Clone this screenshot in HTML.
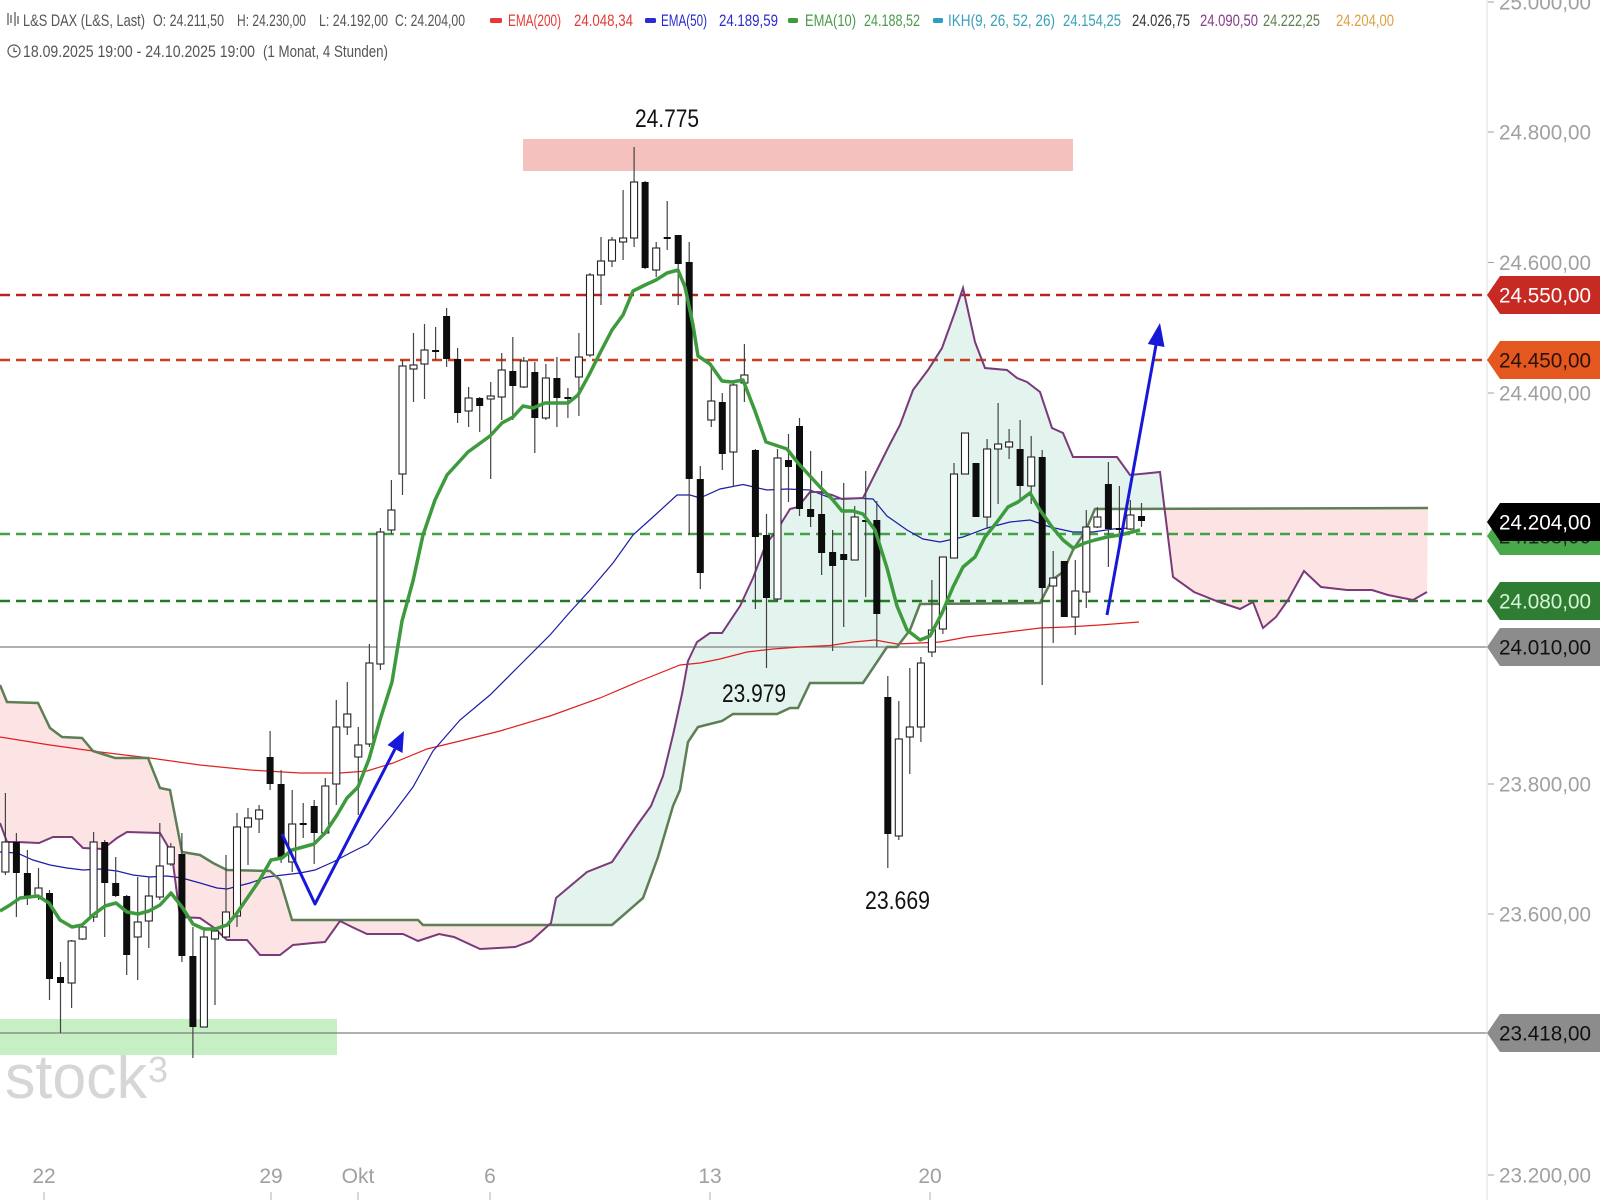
<!DOCTYPE html>
<html>
<head>
<meta charset="utf-8">
<style>
html,body{margin:0;padding:0;background:#fff;}
svg{display:block;}
text{font-family:"Liberation Sans",Arial,sans-serif;}
.hd{font-family:"Liberation Sans Narrow","Liberation Sans",sans-serif;font-size:17px;}
</style>
</head>
<body>
<svg width="1600" height="1200" viewBox="0 0 1600 1200" xmlns="http://www.w3.org/2000/svg">
<rect x="0" y="0" width="1600" height="1200" fill="#ffffff"/>
<defs>
<clipPath id="cpPink"><rect x="0" y="0" width="551" height="1200"/><rect x="1164.5" y="0" width="300" height="1200"/></clipPath>
<clipPath id="cpGreen"><rect x="551" y="0" width="613.5" height="1200"/></clipPath>
</defs>

<!-- watermark -->
<text x="5" y="1098" font-size="62" fill="#d6d6d6" textLength="142" lengthAdjust="spacingAndGlyphs">stock</text>
<text x="148" y="1082" font-size="36" fill="#d6d6d6">3</text>
<rect x="148" y="1049" width="22" height="3" fill="#d6d6d6"/>

<!-- Ichimoku cloud fills -->
<polygon clip-path="url(#cpPink)" fill="#fde4e4" points="0,823 7,842 17,842 39,843 53,837 72,837 83,848 103,849 117,838 127,832 160,833 170,850 173,863 180,917 200,918 213,927 227,940 247,940 260,955 280,955 293,945 313,943 325,942 340,921 352,927 367,934 403,934 418,941 439,934 454,937 480,949 515,947 531,941 551,923 556,898 587,872 612,862 638,824 651,806 663,776 673,735 682,694 688,661 697,642 710,633 722,633 740,606 753,578 766,544 777,530 790,509 798,507 810,492 820,492 832,495 842,499 863,498 880,464 890,444 900,425 913,390 928,370 942,348 955,312 963,288 975,342 985,368 1007,370 1017,378 1027,382 1040,392 1052,428 1063,433 1073,457 1117,457 1130,475 1160,472 1173,577 1194,592 1219,602 1240,609 1253,602 1263,628 1276,617 1288,600 1304,571 1321,587 1347,590 1372,590 1388,595 1413,600 1427,592 1428,508 1095,509 1085,532 1073,550 1063,572 1052,580 1040,603 920,604 910,630 897,647 887,647 863,683 810,683 798,708 790,708 777,714 733,714 722,721 698,727 688,742 680,790 673,806 658,857 643,898 612,925 423,925 418,920 292,920 280,880 270,871 227,870 213,863 200,855 182,852 170,790 160,788 148,758 115,758 93,751 82,738 62,737 50,728 38,703 7,702 0,685"/>
<polygon clip-path="url(#cpGreen)" fill="#e3f3ee" points="0,823 7,842 17,842 39,843 53,837 72,837 83,848 103,849 117,838 127,832 160,833 170,850 173,863 180,917 200,918 213,927 227,940 247,940 260,955 280,955 293,945 313,943 325,942 340,921 352,927 367,934 403,934 418,941 439,934 454,937 480,949 515,947 531,941 551,923 556,898 587,872 612,862 638,824 651,806 663,776 673,735 682,694 688,661 697,642 710,633 722,633 740,606 753,578 766,544 777,530 790,509 798,507 810,492 820,492 832,495 842,499 863,498 880,464 890,444 900,425 913,390 928,370 942,348 955,312 963,288 975,342 985,368 1007,370 1017,378 1027,382 1040,392 1052,428 1063,433 1073,457 1117,457 1130,475 1160,472 1173,577 1194,592 1219,602 1240,609 1253,602 1263,628 1276,617 1288,600 1304,571 1321,587 1347,590 1372,590 1388,595 1413,600 1427,592 1428,508 1095,509 1085,532 1073,550 1063,572 1052,580 1040,603 920,604 910,630 897,647 887,647 863,683 810,683 798,708 790,708 777,714 733,714 722,721 698,727 688,742 680,790 673,806 658,857 643,898 612,925 423,925 418,920 292,920 280,880 270,871 227,870 213,863 200,855 182,852 170,790 160,788 148,758 115,758 93,751 82,738 62,737 50,728 38,703 7,702 0,685"/>

<!-- zones -->
<rect x="523" y="139" width="550" height="32" fill="#f5c1be"/>
<rect x="0" y="1019" width="337" height="36" fill="#c6f0c4"/>

<!-- horizontal levels -->
<line x1="0" y1="647" x2="1487" y2="647" stroke="#808080" stroke-width="1.2"/>
<line x1="0" y1="1033" x2="1487" y2="1033" stroke="#808080" stroke-width="1.2"/>
<line x1="0" y1="295" x2="1487" y2="295" stroke="#b3261e" stroke-width="2.5" stroke-dasharray="10,6"/>
<line x1="0" y1="360" x2="1487" y2="360" stroke="#cc3d1e" stroke-width="2.5" stroke-dasharray="10,6"/>
<line x1="0" y1="534" x2="1487" y2="534" stroke="#45a045" stroke-width="2.5" stroke-dasharray="10,6"/>
<line x1="0" y1="601" x2="1487" y2="601" stroke="#237a23" stroke-width="2.5" stroke-dasharray="10,6"/>

<!-- EMA200 -->
<polyline fill="none" stroke="#e02020" stroke-width="1.2" points="0,737 50,745 100,752 150,758 200,765 250,770 300,773 340,773 367,771 393,763 427,749 460,741 500,731 550,716 600,698 640,681 680,665 700,663 720,659 747,652 773,649 800,647 830,645.5 853,642 875,640 897,644 920,643 940,642 967,637 1000,633 1040,628 1067,627 1100,625 1139,622"/>
<!-- EMA50 -->
<polyline fill="none" stroke="#1c1ca8" stroke-width="1.2" points="0,852 17,853 33,860 50,865 67,868 83,870 100,869 117,871 133,875 150,877 167,876 182,878 200,883 217,888 227,889 250,883 267,877 283,875 300,873 315,870 333,862 350,853 368,844 392,815 413,787 433,751 460,720 490,695 520,665 550,635 570,612 590,590 613,563 633,535 653,517 677,495 690,495 700,498 720,489 743,484.5 767,490 787,489 810,490 833,499 853,498 873,499 887,516 907,530 923,539 940,542 963,537 987,528 1010,522 1030,520 1050,527 1073,532 1093,532 1113,529 1130,528"/>
<!-- Span lines -->
<polyline fill="none" stroke="#5e7e55" stroke-width="2.5" points="0,685 7,702 38,703 50,728 62,737 82,738 93,751 115,758 148,758 160,788 170,790 182,852 200,855 213,863 227,870 270,871 280,880 292,920 418,920 423,925 612,925 643,898 658,857 673,806 680,790 688,742 698,727 722,721 733,714 777,714 790,708 798,708 810,683 863,683 887,647 897,647 910,630 920,604 1040,603 1052,580 1063,572 1073,550 1085,532 1095,509 1428,508"/>
<polyline fill="none" stroke="#7a3a7a" stroke-width="2" points="0,823 7,842 17,842 39,843 53,837 72,837 83,848 103,849 117,838 127,832 160,833 170,850 173,863 180,917 200,918 213,927 227,940 247,940 260,955 280,955 293,945 313,943 325,942 340,921 352,927 367,934 403,934 418,941 439,934 454,937 480,949 515,947 531,941 551,923 556,898 587,872 612,862 638,824 651,806 663,776 673,735 682,694 688,661 697,642 710,633 722,633 740,606 753,578 766,544 777,530 790,509 798,507 810,492 820,492 832,495 842,499 863,498 880,464 890,444 900,425 913,390 928,370 942,348 955,312 963,288 975,342 985,368 1007,370 1017,378 1027,382 1040,392 1052,428 1063,433 1073,457 1117,457 1130,475 1160,472 1173,577 1194,592 1219,602 1240,609 1253,602 1263,628 1276,617 1288,600 1304,571 1321,587 1347,590 1372,590 1388,595 1413,600 1427,592"/>

<!-- wicks -->
<path fill="none" stroke="#444" stroke-width="1.2" d="M5.4 793V875M16.4 833V917M27.4 850V905M38.5 868V900M49.5 890V1000M60.5 962V1033M71.6 940V1008M82.6 923V940M93.6 832V922M104.7 840V937M115.7 857V897M126.7 895V975M137.7 877V980M148.8 877V948M159.8 823V900M170.8 843V866M181.9 833V962M192.9 927V1058M203.9 927V1027M215 927V1005M226 855V938M237 813V927M248 808V865M259.1 805V833M270.1 731V790M281.1 770V863M292.2 790V872M303.2 803V838M314.2 800V864M325.3 778V835M336.3 700V805M347.3 682V735M358.3 727V815M369.4 644V747M380.4 528V670M391.4 480V534M402.5 360V495M413.5 333V402M424.5 324V399M435.6 327V360M446.6 308V367M457.6 348V423M468.6 387V427M479.7 397V432M490.7 382V479M501.7 353V420M512.8 337V420M523.8 357V388M534.8 362V453M545.9 364V420M556.9 357V427M567.9 388V418M578.9 333V416M590 273V357M601 237V305M612 237V267M623.1 190V260M634.1 147V247M645.1 181V269M656.2 242V277M667.2 201V250M678.2 235V305M689.2 242V535M700.3 466V589M711.3 368V427M722.3 393V470M733.4 383V487M744.4 344V402M755.4 449V609M766.5 514V668M777.5 449V601M788.5 434V502M799.5 418V516M810.6 451V527M821.6 471V575M832.6 530V651M843.7 483V627M854.7 506V560M865.7 471V597M876.8 501V647M887.8 676V868M898.8 701V840M909.8 668V774M920.9 657V742M931.9 580V657M942.9 557V634M954 463V558M965 433V474M976 463V517M987.1 439V529M998.1 403V504M1009.1 429V459M1020.1 420V501M1031.2 436V504M1042.2 450V685M1053.2 551V643M1064.3 561V617M1075.3 560V635M1086.3 510V608M1097.4 507V528M1108.4 462V567M1119.4 486V543M1130.4 500V530M1141.5 503V527"/>

<!-- hollow bodies -->
<g fill="#ffffff" stroke="#222" stroke-width="1.1">
<rect x="1.9" y="842" width="7" height="30"/>
<rect x="35" y="888" width="7" height="9"/>
<rect x="68.1" y="941" width="7" height="42"/>
<rect x="79.1" y="927" width="7" height="12"/>
<rect x="90.1" y="842" width="7" height="75"/>
<rect x="134.2" y="922" width="7" height="15"/>
<rect x="145.3" y="896" width="7" height="25"/>
<rect x="156.3" y="866" width="7" height="31"/>
<rect x="167.3" y="847" width="7" height="17"/>
<rect x="200.4" y="937" width="7" height="90"/>
<rect x="211.5" y="931" width="7" height="8"/>
<rect x="222.5" y="912" width="7" height="25"/>
<rect x="233.5" y="827" width="7" height="89"/>
<rect x="244.5" y="818" width="7" height="9"/>
<rect x="255.6" y="810" width="7" height="9"/>
<rect x="288.7" y="824" width="7" height="38"/>
<rect x="321.8" y="786" width="7" height="47"/>
<rect x="332.8" y="727" width="7" height="57"/>
<rect x="343.8" y="714" width="7" height="13"/>
<rect x="354.8" y="745" width="7" height="12"/>
<rect x="365.9" y="663" width="7" height="81"/>
<rect x="376.9" y="532" width="7" height="132"/>
<rect x="387.9" y="510" width="7" height="20"/>
<rect x="399" y="366" width="7" height="108"/>
<rect x="410" y="365" width="7" height="4"/>
<rect x="421" y="350" width="7" height="14"/>
<rect x="465.1" y="398" width="7" height="13"/>
<rect x="487.2" y="396" width="7" height="3"/>
<rect x="498.2" y="370" width="7" height="27"/>
<rect x="520.3" y="361" width="7" height="26"/>
<rect x="542.4" y="378" width="7" height="40"/>
<rect x="575.4" y="357" width="7" height="20"/>
<rect x="586.5" y="275" width="7" height="80"/>
<rect x="597.5" y="261" width="7" height="14"/>
<rect x="608.5" y="240" width="7" height="21"/>
<rect x="619.6" y="238" width="7" height="4"/>
<rect x="630.6" y="182" width="7" height="56"/>
<rect x="652.7" y="248" width="7" height="22"/>
<rect x="707.8" y="401" width="7" height="19"/>
<rect x="729.9" y="385" width="7" height="67"/>
<rect x="740.9" y="375" width="7" height="8"/>
<rect x="774" y="458" width="7" height="141"/>
<rect x="851.2" y="517" width="7" height="43"/>
<rect x="895.3" y="739" width="7" height="97"/>
<rect x="906.3" y="727" width="7" height="10"/>
<rect x="917.4" y="663" width="7" height="64"/>
<rect x="928.4" y="630" width="7" height="22"/>
<rect x="939.4" y="557" width="7" height="72"/>
<rect x="950.5" y="474" width="7" height="84"/>
<rect x="961.5" y="433" width="7" height="41"/>
<rect x="983.6" y="449" width="7" height="68"/>
<rect x="994.6" y="444" width="7" height="5"/>
<rect x="1005.6" y="442" width="7" height="5"/>
<rect x="1027.7" y="457" width="7" height="29"/>
<rect x="1049.7" y="578" width="7" height="8"/>
<rect x="1071.8" y="591" width="7" height="26"/>
<rect x="1082.8" y="527" width="7" height="65"/>
<rect x="1093.9" y="517" width="7" height="10"/>
<rect x="1126.9" y="515" width="7" height="14"/>
</g>

<!-- black bodies -->
<g fill="#0d0d0d">
<rect x="12.9" y="842" width="7" height="31"/>
<rect x="23.9" y="873" width="7" height="24"/>
<rect x="46" y="893" width="7" height="86"/>
<rect x="57" y="977" width="7" height="6"/>
<rect x="101.2" y="842" width="7" height="41"/>
<rect x="112.2" y="883" width="7" height="13"/>
<rect x="123.2" y="896" width="7" height="59"/>
<rect x="178.4" y="854" width="7" height="102"/>
<rect x="189.4" y="956" width="7" height="71"/>
<rect x="266.6" y="757" width="7" height="27"/>
<rect x="277.6" y="784" width="7" height="74"/>
<rect x="310.7" y="806" width="7" height="27"/>
<rect x="443.1" y="316" width="7" height="43"/>
<rect x="454.1" y="359" width="7" height="54"/>
<rect x="476.2" y="398" width="7" height="8"/>
<rect x="509.3" y="371" width="7" height="15"/>
<rect x="531.3" y="372" width="7" height="46"/>
<rect x="553.4" y="378" width="7" height="20"/>
<rect x="564.4" y="397" width="7" height="2"/>
<rect x="641.6" y="182" width="7" height="86"/>
<rect x="674.7" y="235" width="7" height="29"/>
<rect x="685.7" y="262" width="7" height="217"/>
<rect x="696.8" y="479" width="7" height="94"/>
<rect x="718.8" y="402" width="7" height="52"/>
<rect x="751.9" y="450" width="7" height="87"/>
<rect x="763" y="535" width="7" height="63"/>
<rect x="785" y="460" width="7" height="7"/>
<rect x="796" y="426" width="7" height="83"/>
<rect x="807.1" y="509" width="7" height="8"/>
<rect x="818.1" y="514" width="7" height="39"/>
<rect x="829.1" y="552" width="7" height="14"/>
<rect x="840.2" y="554" width="7" height="6"/>
<rect x="862.2" y="520" width="7" height="2"/>
<rect x="873.3" y="520" width="7" height="94"/>
<rect x="884.3" y="697" width="7" height="137"/>
<rect x="972.5" y="463" width="7" height="54"/>
<rect x="1016.6" y="449" width="7" height="37"/>
<rect x="1038.7" y="457" width="7" height="131"/>
<rect x="1060.8" y="561" width="7" height="56"/>
<rect x="1104.9" y="484" width="7" height="45"/>
<rect x="1138" y="516" width="7" height="5"/>
<rect x="299.7" y="823" width="7" height="2"/>
<rect x="432.1" y="350" width="7" height="2"/>
<rect x="663.7" y="237" width="7" height="2"/>
<rect x="1115.9" y="528" width="7" height="2"/>
</g>

<!-- EMA10 -->
<polyline fill="none" stroke="#3d9a3d" stroke-width="3.5" stroke-linejoin="round" points="0,911 10,905 20,898 38,896 49,903 60,920 72,927 82,925 93,915 105,906 116,903 127,912 138,914 149,911 160,905 171,893 182,907 193,924 204,929 215,929 227,925 237,913 248,897 259,881 271,860 282,858 292,850 314,844 325,833 337,815 347,798 358,787 369,759 380,720 392,682 402,621 413,581 423,535 435,500 447,475 468,452 490,436 502,423 513,417 523,406 533,408 545,403 568,403 578,395 589,375 600,353 612,330 623,315 633,291 645,285 656,280 667,273 678,270 685,287 693,325 698,356 710,364 722,381 732,382 743,380 755,411 766,442 787,449 798,463 809,475 820,487 832,499 842,511 853,511 863,514 875,530 887,568 897,606 907,630 920,640 930,636 942,613 953,587 963,567 975,557 985,537 997,522 1008,507 1018,502 1030,493 1040,510 1052,527 1063,540 1073,548 1085,543 1095,540 1107,537 1120,535 1140,530"/>

<!-- blue arrows -->
<polyline fill="none" stroke="#1818d8" stroke-width="3" stroke-linejoin="round" points="282,834 315,904 395,749"/>
<polygon fill="#1818d8" points="404,731 402.5,753 387.5,745"/>
<line x1="1107" y1="615" x2="1156" y2="345" stroke="#1818d8" stroke-width="3"/>
<polygon fill="#1818d8" points="1160,323 1164.5,347 1147.8,344"/>

<!-- annotations -->
<text x="635" y="127" font-size="25" fill="#111" textLength="64" lengthAdjust="spacingAndGlyphs">24.775</text>
<text x="722" y="702" font-size="25" fill="#111" textLength="64" lengthAdjust="spacingAndGlyphs">23.979</text>
<text x="865" y="909" font-size="25" fill="#111" textLength="65" lengthAdjust="spacingAndGlyphs">23.669</text>

<!-- right axis -->
<line x1="1487" y1="0" x2="1487" y2="1200" stroke="#dcdcdc" stroke-width="1"/>
<g font-size="21" fill="#a0a0a0">
<text x="1499" y="9.5" textLength="92" lengthAdjust="spacingAndGlyphs">25.000,00</text>
<text x="1499" y="139.5" textLength="92" lengthAdjust="spacingAndGlyphs">24.800,00</text>
<text x="1499" y="270" textLength="92" lengthAdjust="spacingAndGlyphs">24.600,00</text>
<text x="1499" y="400.5" textLength="92" lengthAdjust="spacingAndGlyphs">24.400,00</text>
<text x="1499" y="791.5" textLength="92" lengthAdjust="spacingAndGlyphs">23.800,00</text>
<text x="1499" y="921.5" textLength="92" lengthAdjust="spacingAndGlyphs">23.600,00</text>
<text x="1499" y="1182.5" textLength="92" lengthAdjust="spacingAndGlyphs">23.200,00</text>
</g>
<path stroke="#a0a0a0" stroke-width="1" d="M1488 2H1494M1488 132H1494M1488 262.5H1494M1488 393H1494M1488 784H1494M1488 914H1494M1488 1175H1494"/>

<!-- price labels -->
<polygon fill="#c62a22" points="1487,295 1500,276 1600,276 1600,314 1500,314"/>
<text x="1499" y="302.5" font-size="21" fill="#ffffff" textLength="92" lengthAdjust="spacingAndGlyphs">24.550,00</text>
<polygon fill="#e4571e" points="1487,360 1500,341 1600,341 1600,379 1500,379"/>
<text x="1499" y="367.5" font-size="21" fill="#2a1208" textLength="92" lengthAdjust="spacingAndGlyphs">24.450,00</text>
<polygon fill="#49a84a" points="1487,536 1500,517 1600,517 1600,555 1500,555"/>
<text x="1499" y="543.5" font-size="21" fill="#1a2a1a" textLength="92" lengthAdjust="spacingAndGlyphs">24.188,00</text>
<polygon fill="#000000" points="1487,522 1500,503 1600,503 1600,541 1500,541"/>
<text x="1499" y="529.5" font-size="21" fill="#ffffff" textLength="92" lengthAdjust="spacingAndGlyphs">24.204,00</text>
<polygon fill="#2e7d32" points="1487,601 1500,582 1600,582 1600,620 1500,620"/>
<text x="1499" y="608.5" font-size="21" fill="#d6f5d6" textLength="92" lengthAdjust="spacingAndGlyphs">24.080,00</text>
<polygon fill="#8c8c8c" points="1487,647 1500,628 1600,628 1600,666 1500,666"/>
<text x="1499" y="654.5" font-size="21" fill="#111" textLength="92" lengthAdjust="spacingAndGlyphs">24.010,00</text>
<polygon fill="#8c8c8c" points="1487,1033 1500,1014 1600,1014 1600,1052 1500,1052"/>
<text x="1499" y="1040.5" font-size="21" fill="#111" textLength="92" lengthAdjust="spacingAndGlyphs">23.418,00</text>

<!-- bottom axis -->
<g font-size="21" fill="#a0a0a0" text-anchor="middle">
<text x="44" y="1183">22</text>
<text x="271" y="1183">29</text>
<text x="358" y="1183">Okt</text>
<text x="490" y="1183">6</text>
<text x="710" y="1183">13</text>
<text x="930" y="1183">20</text>
</g>
<path stroke="#b0b0b0" stroke-width="1" d="M44 1192V1200M271 1192V1200M358 1192V1200M490 1192V1200M710 1192V1200M930 1192V1200"/>

<!-- header -->
<g stroke="#555" stroke-width="1.2" fill="none">
<path d="M8 13V25M11 15V23M15 12V26M18 16V24"/>
</g>
<g class="hd" fill="#555">
<text x="23" y="26" textLength="122" lengthAdjust="spacingAndGlyphs">L&amp;S DAX (L&amp;S, Last)</text>
<text x="153" y="26" textLength="71" lengthAdjust="spacingAndGlyphs">O: 24.211,50</text>
<text x="237" y="26" textLength="69" lengthAdjust="spacingAndGlyphs">H: 24.230,00</text>
<text x="319" y="26" textLength="69" lengthAdjust="spacingAndGlyphs">L: 24.192,00</text>
<text x="395" y="26" textLength="70" lengthAdjust="spacingAndGlyphs">C: 24.204,00</text>
</g>
<rect x="490" y="18" width="12" height="5" rx="1.5" fill="#e53935"/>
<g class="hd" fill="#e53935">
<text x="508" y="26" textLength="53" lengthAdjust="spacingAndGlyphs">EMA(200)</text>
<text x="574" y="26" textLength="59" lengthAdjust="spacingAndGlyphs">24.048,34</text>
</g>
<rect x="645" y="18" width="11" height="5" rx="1.5" fill="#2b2bd0"/>
<g class="hd" fill="#2b2bd0">
<text x="661" y="26" textLength="46" lengthAdjust="spacingAndGlyphs">EMA(50)</text>
<text x="719" y="26" textLength="59" lengthAdjust="spacingAndGlyphs">24.189,59</text>
</g>
<rect x="788" y="18" width="10" height="5" rx="1.5" fill="#3d9a3d"/>
<g class="hd" fill="#4c9a4c">
<text x="805" y="26" textLength="51" lengthAdjust="spacingAndGlyphs">EMA(10)</text>
<text x="864" y="26" textLength="56" lengthAdjust="spacingAndGlyphs">24.188,52</text>
</g>
<rect x="933" y="18" width="10" height="5" rx="1.5" fill="#2aa0c0"/>
<g class="hd">
<text x="948" y="26" fill="#3aa0b8" textLength="107" lengthAdjust="spacingAndGlyphs">IKH(9, 26, 52, 26)</text>
<text x="1063" y="26" fill="#3aa0b8" textLength="58" lengthAdjust="spacingAndGlyphs">24.154,25</text>
<text x="1132" y="26" fill="#333333" textLength="58" lengthAdjust="spacingAndGlyphs">24.026,75</text>
<text x="1200" y="26" fill="#8a3a8a" textLength="58" lengthAdjust="spacingAndGlyphs">24.090,50</text>
<text x="1263" y="26" fill="#5f7f4f" textLength="57" lengthAdjust="spacingAndGlyphs">24.222,25</text>
<text x="1336" y="26" fill="#e0a040" textLength="58" lengthAdjust="spacingAndGlyphs">24.204,00</text>
</g>
<circle cx="14" cy="51" r="6" fill="none" stroke="#555" stroke-width="1.2"/>
<path d="M14 47.5V51.5H17" fill="none" stroke="#555" stroke-width="1.2"/>
<g class="hd" fill="#555">
<text x="23" y="57" textLength="232" lengthAdjust="spacingAndGlyphs">18.09.2025 19:00 - 24.10.2025 19:00</text>
<text x="263" y="57" textLength="125" lengthAdjust="spacingAndGlyphs">(1 Monat, 4 Stunden)</text>
</g>
</svg>
</body>
</html>
